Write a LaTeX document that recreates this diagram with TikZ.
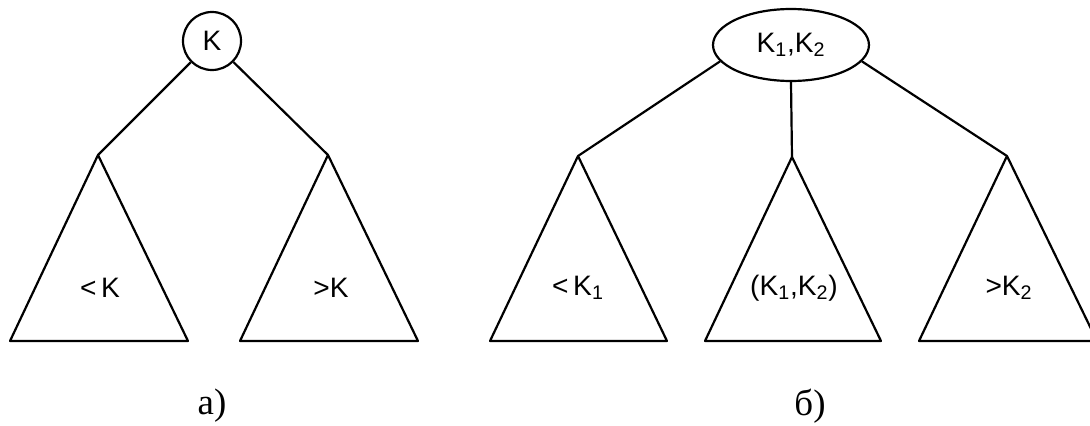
\documentclass[tikz,border=0pt]{standalone}
\usepackage{fontspec}
\setmainfont{Liberation Sans}
\newfontfamily\capfont{Liberation Serif}
\usepackage{tikz}
\usetikzlibrary{shapes.geometric, positioning}

\begin{document}
\begin{tikzpicture}[
  x=0.02cm, y=-0.02cm,
  line width=1.25pt,
  key/.style={draw, circle, minimum size=1.16cm, inner sep=0pt, font=\fontsize{16}{18}\selectfont},
  keys/.style={draw, ellipse, minimum width=3.12cm, minimum height=1.44cm, inner sep=0pt, font=\fontsize{16}{18}\selectfont},
  sub/.style={font=\fontsize{16}{18}\selectfont},
  caption/.style={font=\capfont\fontsize{21}{23}\selectfont}
]
\useasboundingbox (0,0) rectangle (1090,426);
\clip (0,0) rectangle (1090,426);

\node[key] (root) at (212, 41) {K};
\coordinate (la) at (98, 155);
\coordinate (ra) at (328, 155);

\draw (root) -- (la);
\draw (root) -- (ra);
\draw[line join=round] (la) -- ++(-88, 186) -- ++(178, 0) -- cycle;
\draw[line join=round] (ra) -- ++(-88, 186) -- ++(178, 0) -- cycle;

\node[sub] (lt) at (100, 288) {<\,K};
\node[sub] (rt) at (331, 288) {>K};
\node[caption] (capa) at (212, 406) {а)};

\node[keys] (root2) at (791, 45) {K\textsubscript{1},K\textsubscript{2}};
\coordinate (la2) at (578, 156);
\coordinate (ma2) at (792, 157);
\coordinate (ra2) at (1007, 156);

\draw (root2.193) -- (la2);
\draw (root2.south) -- (ma2);
\draw (root2.347) -- (ra2);
\draw[line join=round] (la2) -- ++(-88, 185) -- ++(177, 0) -- cycle;
\draw[line join=round] (ma2) -- ++(-87, 184) -- ++(176, 0) -- cycle;
\draw[line join=round] (ra2) -- ++(-88, 185) -- ++(178, 0) -- cycle;

\node[sub] (lt2) at (578, 288) {<\,K\textsubscript{1}};
\node[sub] (mt2) at (794, 288) {(K\textsubscript{1},K\textsubscript{2})};
\node[sub] (rt2) at (1009, 288) {>K\textsubscript{2}};
\node[caption] (capb) at (810, 406) {б)};

\end{tikzpicture}
\end{document}
